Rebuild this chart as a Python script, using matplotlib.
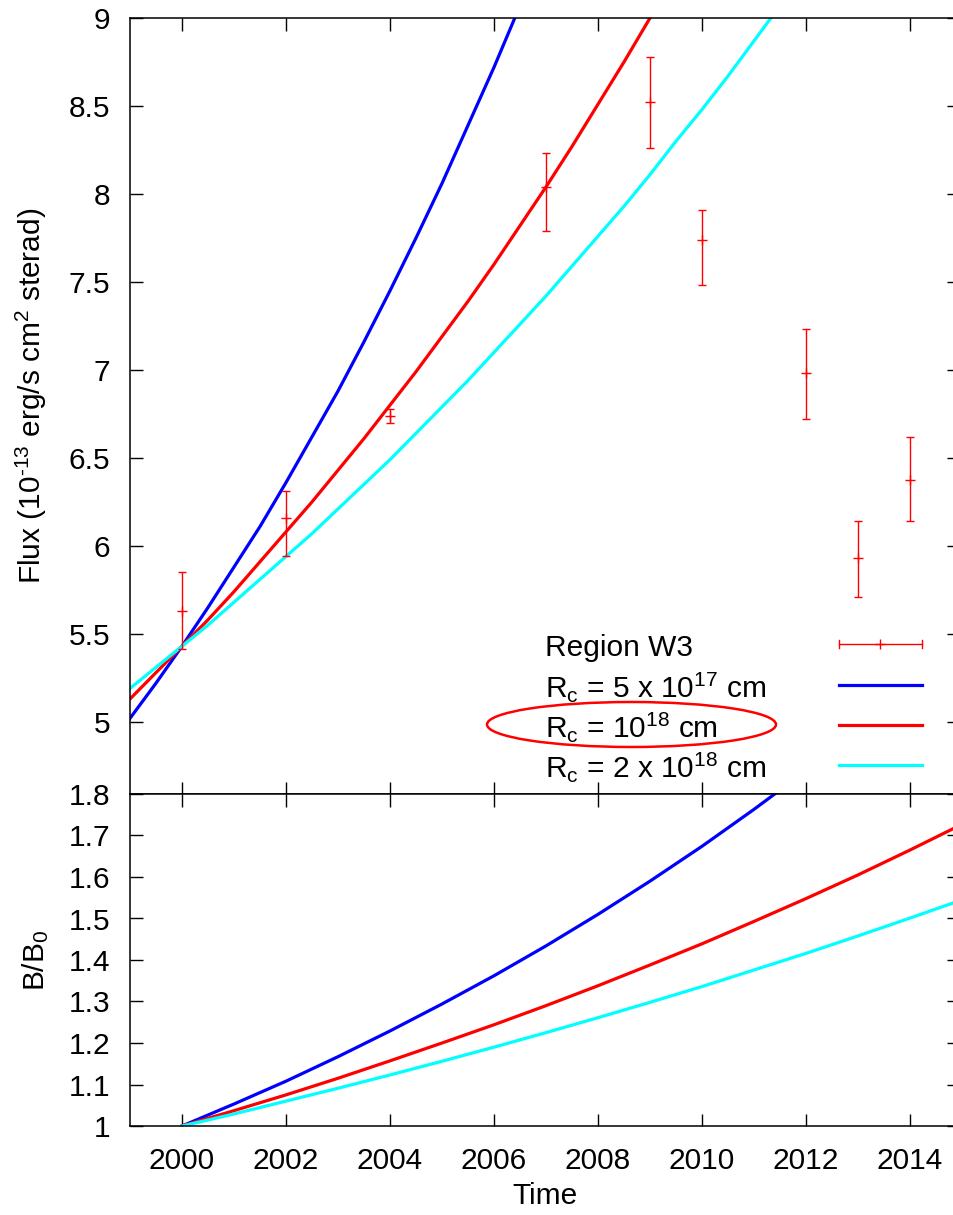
import numpy as np
import matplotlib
matplotlib.use('Agg')
import matplotlib.pyplot as plt
from matplotlib.patches import Ellipse
from matplotlib.lines import Line2D

plt.rcParams['font.family'] = ['Liberation Sans', 'DejaVu Sans']
plt.rcParams['mathtext.fontset'] = 'custom'
plt.rcParams['mathtext.rm'] = 'Liberation Sans'
plt.rcParams['mathtext.default'] = 'regular'

# observed flux, region W3 (10^-13 erg/s cm2 sterad)
obs_years = [2000, 2002, 2004, 2007, 2009, 2010, 2012, 2013, 2014]
obs_flux = [5.63, 6.16, 6.74, 8.04, 8.52, 7.74, 6.98, 5.93, 6.375]
obs_low = [5.415, 5.94, 6.70, 7.79, 8.26, 7.48, 6.72, 5.71, 6.14]
obs_high = [5.85, 6.31, 6.78, 8.23, 8.78, 7.91, 7.23, 6.14, 6.62]

# model flux, one value per half year starting 1999
flux_years = np.arange(1999, 2016, 0.5)
flux_5e17 = [5.02, 5.22, 5.43, 5.65, 5.88, 6.11, 6.36, 6.62, 6.88, 7.16, 7.45,
             7.75, 8.06, 8.39, 8.72, 9.07, 9.44]
flux_1e18 = [5.13, 5.28, 5.43, 5.58, 5.74, 5.91, 6.08, 6.25, 6.43, 6.61, 6.80,
             6.99, 7.19, 7.39, 7.60, 7.82, 8.04, 8.27, 8.51, 8.75, 9.00, 9.25]
flux_2e18 = [5.19, 5.31, 5.43, 5.55, 5.68, 5.81, 5.94, 6.07, 6.21, 6.35, 6.49,
             6.64, 6.79, 6.94, 7.10, 7.26, 7.42, 7.59, 7.76, 7.93, 8.11, 8.30,
             8.48, 8.67, 8.87, 9.07]

# B/B0, one value per year starting 2000
b_years = np.arange(2000, 2016)
b_5e17 = [1.000, 1.053, 1.108, 1.167, 1.229, 1.294, 1.362, 1.434, 1.510, 1.590,
          1.674, 1.763, 1.856]
b_1e18 = [1.000, 1.037, 1.075, 1.115, 1.157, 1.200, 1.244, 1.290, 1.338, 1.388,
          1.439, 1.493, 1.548, 1.605, 1.665, 1.727]
b_2e18 = [1.000, 1.029, 1.060, 1.091, 1.123, 1.156, 1.190, 1.225, 1.261, 1.298,
          1.336, 1.376, 1.416, 1.458, 1.501, 1.545]

labels = ['Region W3',
          r'R$_c$ = 5 x 10$^{17}$ cm',
          r'R$_c$ = 10$^{18}$ cm',
          r'R$_c$ = 2 x 10$^{18}$ cm']
colors = ['#0000ff', '#ff0000', '#00ffff']

W, H = 954, 1215
fig = plt.figure(figsize=(W / 100, H / 100), dpi=100)

def fx(px):
    return px / W

def fy(py):
    return 1 - py / H

left, right = 130, 959.4
ax1 = fig.add_axes([fx(left), fy(794), (right - left) / W, (794 - 18) / H])
ax2 = fig.add_axes([fx(left), fy(1126), (right - left) / W, (1126 - 794) / H])

fs = 21.5
for ax in (ax1, ax2):
    ax.set_xlim(1999, 2014.95)
    ax.set_xticks(np.arange(2000, 2015, 2))
    ax.tick_params(direction='in', length=9, width=1, top=True, right=True,
                   labelsize=fs, colors='black')
    ax.tick_params(axis='y', pad=14.4)
    ax.tick_params(axis='x', pad=15)
    for s in ax.spines.values():
        s.set_linewidth(1.1)

# top panel
ax1.plot(flux_years[:len(flux_5e17)], flux_5e17, color=colors[0], lw=2.3)
ax1.plot(flux_years[:len(flux_1e18)], flux_1e18, color=colors[1], lw=2.3)
ax1.plot(flux_years[:len(flux_2e18)], flux_2e18, color=colors[2], lw=2.3)
yerr = [np.array(obs_flux) - np.array(obs_low), np.array(obs_high) - np.array(obs_flux)]
ax1.errorbar(obs_years, obs_flux, yerr=yerr, fmt='+', color='red', ms=7, mew=1,
             elinewidth=1, capsize=3, capthick=1, zorder=3)
ax1.set_ylim(4.59, 9)
ax1.set_yticks(np.arange(5, 9.01, 0.5))
ax1.set_yticklabels(['5', '5.5', '6', '6.5', '7', '7.5', '8', '8.5', '9'])
ax1.tick_params(axis='x', labelbottom=False)

# bottom panel
ax2.plot(b_years[:len(b_5e17)], b_5e17, color=colors[0], lw=2.3)
ax2.plot(b_years[:len(b_1e18)], b_1e18, color=colors[1], lw=2.3)
ax2.plot(b_years[:len(b_2e18)], b_2e18, color=colors[2], lw=2.3)
ax2.set_ylim(1, 1.8)
ax2.set_yticks(np.arange(1, 1.801, 0.1))
ax2.set_yticklabels(['1', '1.1', '1.2', '1.3', '1.4', '1.5', '1.6', '1.7', '1.8'])

# axis titles
fig.text(fx(31), fy(396), r'Flux (10$^{\text{-13}}$ erg/s cm$^2$ sterad)', rotation=90,
         ha='center', va='center', fontsize=fs)
fig.text(fx(36), fy(960), r'B/B$_0$', rotation=90, ha='center', va='center', fontsize=fs)
fig.text(fx(545), fy(1196), 'Time', ha='center', va='center', fontsize=fs)

# key, gnuplot style
base_y = [656, 697, 737, 777]
samp_y = [644, 685, 725, 765]
for lab, by in zip(labels, base_y):
    fig.text(fx(545), fy(by), lab, ha='left', va='baseline', fontsize=fs)
x0, x1 = 839, 922
fig.add_artist(Line2D([fx(x0), fx(x1)], [fy(samp_y[0])] * 2, color='red', lw=1))
for xc in (x0, x1):
    fig.add_artist(Line2D([fx(xc)] * 2, [fy(samp_y[0] - 4), fy(samp_y[0] + 4)],
                          color='red', lw=1))
fig.add_artist(Line2D([fx(880)], [fy(samp_y[0])], marker='+', ms=7, mew=1,
                      color='red', ls='none'))
for c, sy in zip(colors, samp_y[1:]):
    fig.add_artist(Line2D([fx(x0), fx(x1)], [fy(sy)] * 2, color=c, lw=2.3))

# red ellipse around the chosen model
fig.add_artist(Ellipse((fx(631.5), fy(724.5)), 289 / W, 45 / H, fill=False,
                       edgecolor='red', lw=1.8, transform=fig.transFigure))

fig.savefig('out.png', dpi=100)
